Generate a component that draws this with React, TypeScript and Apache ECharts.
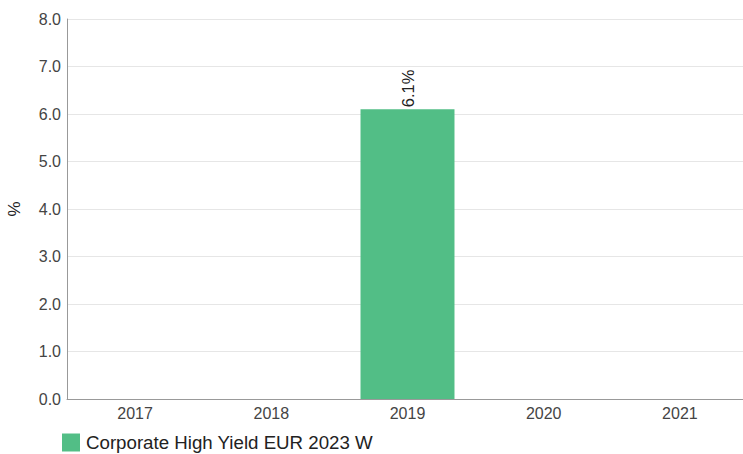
import React, { useEffect, useRef } from "react";
import * as echarts from "echarts";

const categories = ["2017", "2018", "2019", "2020", "2021"];
const seriesName = "Corporate High Yield EUR 2023 W";
const values: (number | null)[] = [null, null, 6.1, null, null];

export default function App() {
  const ref = useRef<HTMLDivElement>(null);
  useEffect(() => {
    document.body.style.margin = "0";
    const chart = echarts.init(ref.current!, null, { renderer: "svg" });
    chart.setOption({
      animation: false,
      textStyle: { fontFamily: "Liberation Sans, Arial, sans-serif" },
      grid: { left: 67, right: -5, top: 19, bottom: 55, outerBoundsMode: "none", containLabel: false },
      legend: {
        left: 62,
        top: 433,
        itemWidth: 18,
        itemHeight: 18,
        itemGap: 10,
        icon: "rect",
        textStyle: { fontSize: 18.7, color: "#222", padding: [0, 0, 0, 1] },
        padding: 0,
        data: [seriesName],
      },
      xAxis: {
        type: "category",
        data: categories,
        axisLine: { lineStyle: { color: "#999" } },
        axisTick: { show: false },
        axisLabel: { fontSize: 16, color: "#444", margin: 6 },
      },
      yAxis: {
        type: "value",
        min: 0,
        max: 8,
        interval: 1,
        name: "%",
        nameLocation: "middle",
        nameGap: 44,
        nameTextStyle: { fontSize: 17, color: "#222" },
        axisLine: { show: true, lineStyle: { color: "#999" } },
        axisTick: { show: false },
        axisLabel: {
          fontSize: 16,
          color: "#444",
          margin: 6,
          formatter: (v: number) => v.toFixed(1),
        },
        splitLine: { lineStyle: { color: "#e6e6e6" } },
      },
      series: [
        {
          name: seriesName,
          type: "bar",
          data: values,
          barWidth: "69%",
          itemStyle: { color: "#52BE86" },
          label: {
            show: true,
            position: "top",
            rotate: 90,
            align: "left",
            verticalAlign: "middle",
            distance: 2,
            fontSize: 16.5,
            color: "#222",
            formatter: (p: any) => p.value.toFixed(1) + "%",
          },
        },
      ],
    });
    return () => chart.dispose();
  }, []);
  return <div ref={ref} style={{ width: 743, height: 454 }} />;
}
